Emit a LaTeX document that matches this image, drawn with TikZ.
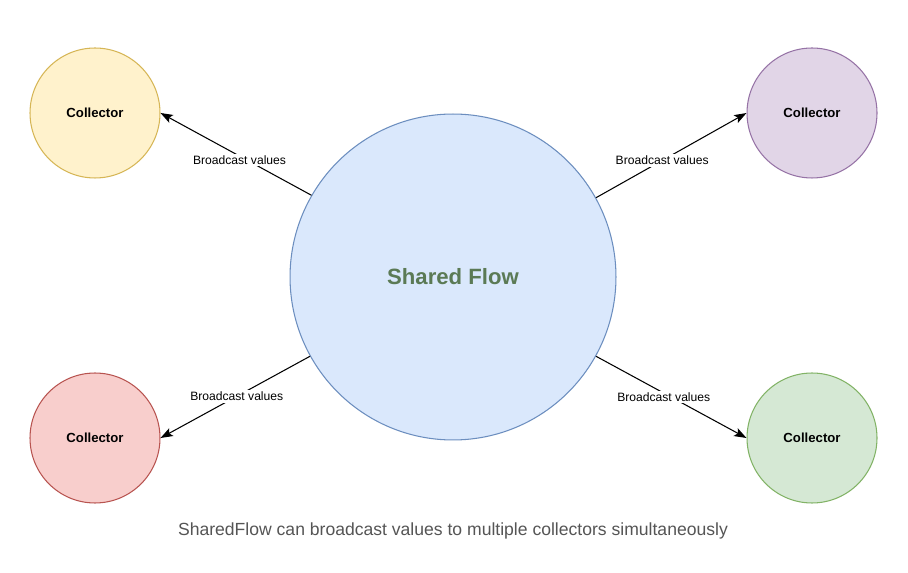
\documentclass[tikz,border=0pt]{standalone}
\usepackage{fontspec}
\setmainfont{Liberation Sans}
\usetikzlibrary{arrows.meta}
\definecolor{flowfill}{HTML}{DAE8FC}\definecolor{flowline}{HTML}{6C8EBF}
\definecolor{yelfill}{HTML}{FFF2CC}\definecolor{yelline}{HTML}{D6B656}
\definecolor{purfill}{HTML}{E1D5E7}\definecolor{purline}{HTML}{9673A6}
\definecolor{redfill}{HTML}{F8CECC}\definecolor{redline}{HTML}{B85450}
\definecolor{grnfill}{HTML}{D5E8D4}\definecolor{grnline}{HTML}{82B366}
\definecolor{flowtext}{HTML}{5B7A55}
\definecolor{captext}{HTML}{555555}
\begin{document}
\begin{tikzpicture}[x=0.02cm, y=-0.02cm, >={Stealth[length=7pt,width=5pt,inset=1.5pt]},
  collector/.style={circle, draw, line width=0.6pt, minimum size=2.6cm, inner sep=0pt,
    font=\fontsize{7.5}{9}\selectfont\bfseries},
  bcast/.style={->, line width=0.6pt},
  lbl/.style={fill=white, inner sep=1pt, font=\fontsize{6.9}{8}\selectfont}]
\useasboundingbox[fill=white] (0,0) rectangle (908,573);
\node[circle, draw=flowline, fill=flowfill, line width=0.6pt, minimum size=6.52cm, inner sep=0pt,
  text=flowtext, font=\fontsize{12.6}{15}\selectfont\bfseries] (flow) at (453,277) {Shared Flow};
\node[collector, draw=yelline, fill=yelfill] (colA) at (95,113) {Collector};
\node[collector, draw=purline, fill=purfill] (colB) at (812,113) {Collector};
\node[collector, draw=redline, fill=redfill] (colC) at (95,438) {Collector};
\node[collector, draw=grnline, fill=grnfill] (colD) at (812,438) {Collector};
\draw[bcast] (flow.150) -- node[lbl, pos=.43, xshift=-0.14cm]{Broadcast values} (colA.east);
\draw[bcast] (flow.29) -- node[lbl, pos=.44]{Broadcast values} (colB.west);
\draw[bcast] (flow.209) -- node[lbl, pos=.49]{Broadcast values} (colC.east);
\draw[bcast] (flow.331) -- node[lbl, pos=.5, xshift=-0.15cm]{Broadcast values} (colD.west);
\node[text=captext, font=\fontsize{10}{12}\selectfont] (caption) at (453,531)
  {SharedFlow can broadcast values to multiple collectors simultaneously};
\end{tikzpicture}
\end{document}
